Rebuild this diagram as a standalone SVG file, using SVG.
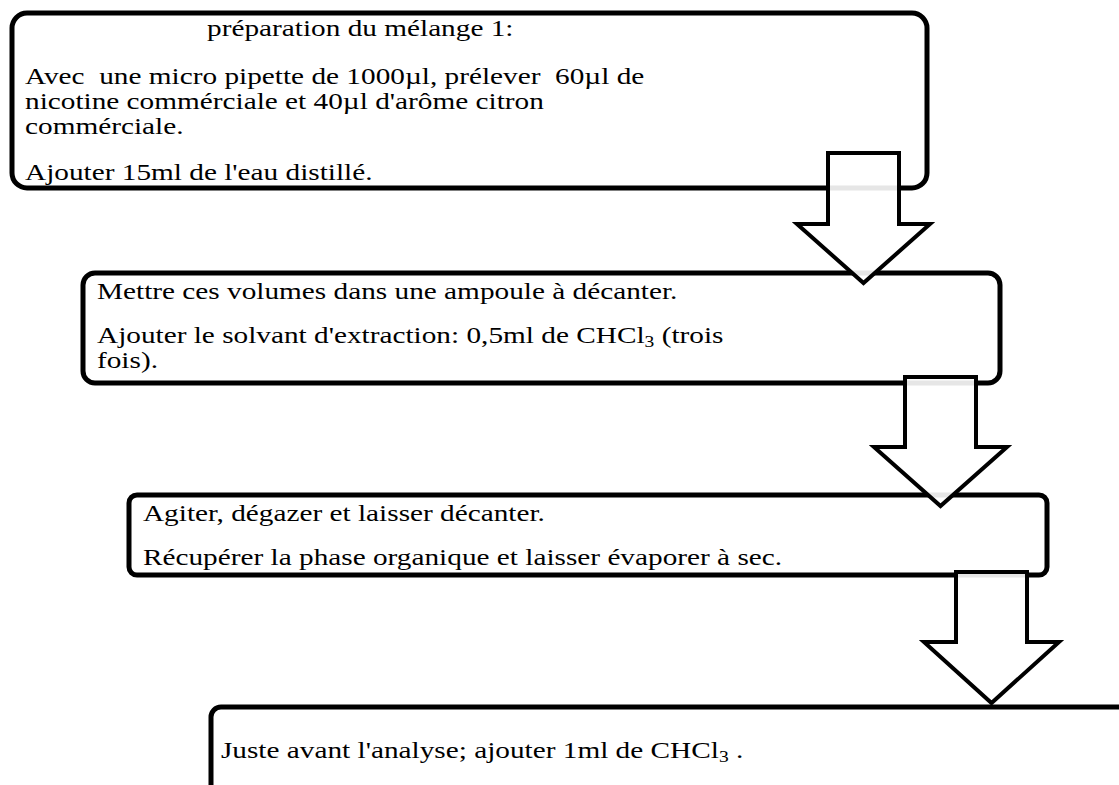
<svg xmlns="http://www.w3.org/2000/svg" width="1119" height="785" viewBox="0 0 1119 785">
<style>
.box{fill:#fff;stroke:#000;stroke-width:5}
.arr{fill:#fff;fill-opacity:0.9;stroke:#000;stroke-width:4;stroke-linejoin:miter}
.t{font-family:"Liberation Serif","Times New Roman",serif;font-size:24px;fill:#000;white-space:pre}
.sub{font-size:16px}
</style>
<rect width="1119" height="785" fill="#fff"/>
<g id="node1">
<rect class="box" x="12" y="13" width="915" height="175" rx="15"/>
<g transform="scale(1.22,1)">
<text class="t" x="169.7" y="36">préparation du mélange 1:</text>
<text class="t" x="20.5" y="84" xml:space="preserve">Avec  une micro pipette de 1000µl, prélever  60µl de</text>
<text class="t" x="20.5" y="109">nicotine commérciale et 40µl d'arôme citron</text>
<text class="t" x="20.5" y="134">commérciale.</text>
<text class="t" x="20.5" y="180">Ajouter 15ml de l'eau distillé.</text>
</g>
</g>
<g id="node2">
<rect class="box" x="83" y="273" width="917" height="110" rx="12"/>
<g transform="scale(1.22,1)">
<text class="t" x="79.5" y="299">Mettre ces volumes dans une ampoule à décanter.</text>
<text class="t" x="79.5" y="343">Ajouter le solvant d'extraction: 0,5ml de CHCl<tspan class="sub" dy="4">3</tspan><tspan dy="-4"> (trois</tspan></text>
<text class="t" x="79.5" y="368">fois).</text>
</g>
</g>
<g id="node3">
<rect class="box" x="129" y="495" width="918" height="80" rx="8"/>
<g transform="scale(1.22,1)">
<text class="t" x="117.2" y="521">Agiter, dégazer et laisser décanter.</text>
<text class="t" x="117.2" y="565">Récupérer la phase organique et laisser évaporer à sec.</text>
</g>
</g>
<g id="node4">
<rect class="box" x="211" y="707" width="1000" height="200" rx="10"/>
<g transform="scale(1.22,1)">
<text class="t" x="181.1" y="758" xml:space="preserve">Juste avant l'analyse; ajouter 1ml de CHCl<tspan class="sub" dy="4">3</tspan><tspan dy="-4"> .</tspan></text>
</g>
</g>
<g id="connectors">
<polygon class="arr" points="828,153 899,153 899,224 930,224 863.5,283 797,224 828,224"/>
<polygon class="arr" points="905,377 976,377 976,447 1007,447 940.5,506 874,447 905,447"/>
<polygon class="arr" points="956,572 1027,572 1027,642 1059,642 991.5,703 924,642 956,642"/>
</g>
</svg>
